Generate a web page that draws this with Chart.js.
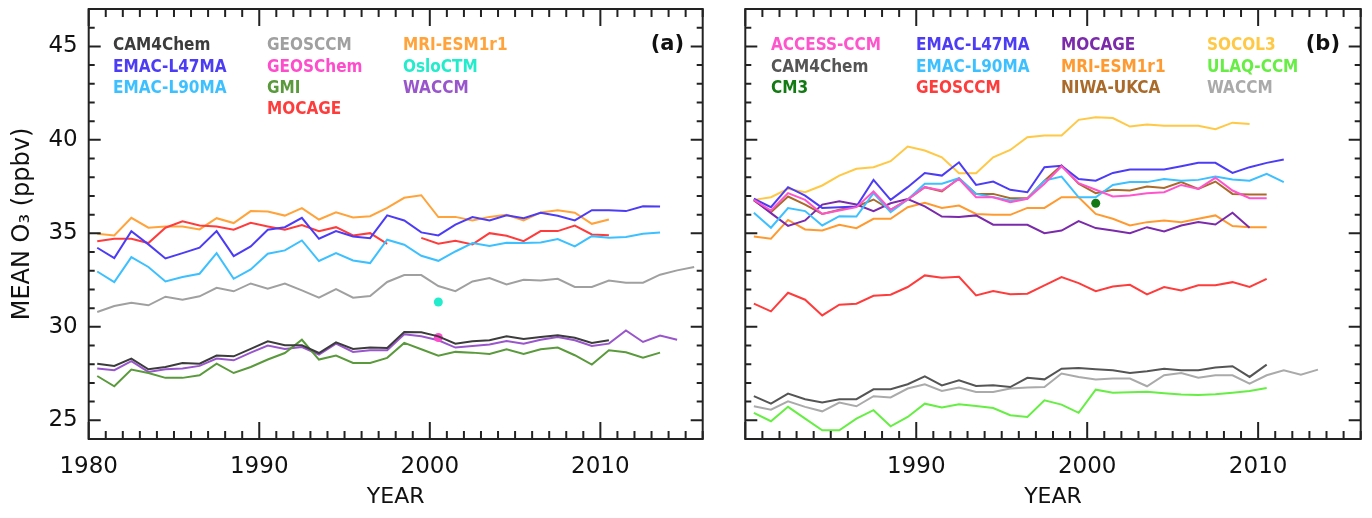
<!DOCTYPE html>
<html>
<head>
<meta charset="utf-8">
<script src="https://cdn.jsdelivr.net/npm/chart.js@4.4.1/dist/chart.umd.min.js"></script>
<style>
  html, body { margin: 0; padding: 0; background: #fff; }
  #wrap { position: relative; width: 1372px; height: 518px; overflow: hidden; }
  .panel { position: absolute; top: 0; height: 518px; }
  #pa { left: 0; width: 724px; }
  #pb { left: 724px; width: 648px; }
</style>
</head>
<body>
<div id="wrap">
  <div class="panel" id="pa"><canvas id="chartA" width="724" height="518"></canvas></div>
  <div class="panel" id="pb"><canvas id="chartB" width="648" height="518"></canvas></div>
</div>
<script>
// annual means, one value per year starting 1980
const years = [1980, 1981, 1982, 1983, 1984, 1985, 1986, 1987, 1988, 1989,
               1990, 1991, 1992, 1993, 1994, 1995, 1996, 1997, 1998, 1999,
               2000, 2001, 2002, 2003, 2004, 2005, 2006, 2007, 2008, 2009,
               2010, 2011, 2012, 2013, 2014, 2015];
const yTicks = [25, 30, 35, 40, 45];
const xTicksA = [1980, 1990, 2000, 2010];
const xTicksB = [1990, 2000, 2010];

// ---- panel (a) ----
const aCAM4Chem = [28.03, 27.91, 28.30, 27.73, 27.85, 28.07, 28.03, 28.46, 28.42, 28.82, 29.23, 29.01, 29.01, 28.60, 29.17, 28.82, 28.89, 28.87, 29.72, 29.71, 29.49, 29.10, 29.23, 29.28, 29.49, 29.35, 29.46, 29.55, 29.42, 29.14, 29.28];
const aEMAC47 = [34.23, 33.68, 35.12, 34.41, 33.66, 33.94, 34.23, 35.12, 33.78, 34.30, 35.19, 35.33, 35.83, 34.71, 35.12, 34.83, 34.74, 35.96, 35.69, 35.05, 34.89, 35.47, 35.87, 35.69, 35.97, 35.81, 36.10, 35.94, 35.69, 36.24, 36.24, 36.19, 36.45, 36.44];
const aEMAC90 = [32.96, 32.39, 33.73, 33.20, 32.43, 32.66, 32.84, 33.94, 32.57, 33.07, 33.91, 34.09, 34.62, 33.52, 33.94, 33.55, 33.41, 34.66, 34.39, 33.80, 33.53, 34.03, 34.48, 34.32, 34.50, 34.48, 34.51, 34.69, 34.30, 34.85, 34.76, 34.80, 34.98, 35.05];
const aGEOSCCM = [30.79, 31.11, 31.29, 31.15, 31.61, 31.45, 31.63, 32.09, 31.90, 32.32, 32.04, 32.32, 31.95, 31.56, 32.02, 31.56, 31.65, 32.40, 32.77, 32.77, 32.18, 31.91, 32.43, 32.61, 32.27, 32.52, 32.48, 32.57, 32.13, 32.13, 32.48, 32.36, 32.36, 32.79, 33.02, 33.20];
const aGMI = [27.37, 26.82, 27.71, 27.53, 27.27, 27.27, 27.41, 28.03, 27.53, 27.85, 28.25, 28.60, 29.31, 28.25, 28.46, 28.07, 28.07, 28.34, 29.14, 28.80, 28.46, 28.66, 28.62, 28.55, 28.80, 28.55, 28.80, 28.89, 28.48, 27.98, 28.75, 28.64, 28.35, 28.62];
const aMOCAGE = [34.58, 34.71, 34.71, 34.48, 35.30, 35.65, 35.42, 35.37, 35.19, 35.56, 35.37, 35.19, 35.44, 35.12, 35.33, 34.89, 35.01, 34.44, null, 34.76, 34.44, 34.60, 34.41, 35.01, 34.87, 34.58, 35.12, 35.12, 35.42, 34.94, 34.90];
const aMRI = [34.98, 34.89, 35.83, 35.30, 35.37, 35.37, 35.21, 35.81, 35.55, 36.19, 36.17, 35.95, 36.35, 35.74, 36.12, 35.85, 35.92, 36.36, 36.90, 37.04, 35.87, 35.88, 35.69, 35.88, 35.99, 35.69, 36.12, 36.24, 36.10, 35.51, 35.74];
const aWACCM = [27.77, 27.68, 28.16, 27.59, 27.73, 27.77, 27.91, 28.30, 28.21, 28.62, 29.00, 28.82, 28.92, 28.51, 29.10, 28.66, 28.75, 28.75, 29.60, 29.49, 29.28, 28.89, 28.98, 29.05, 29.24, 29.10, 29.31, 29.46, 29.28, 28.98, 29.10, 29.81, 29.19, 29.53, 29.31];
// single-year runs
const aGEOSChemYear = 2000, aGEOSChem = 29.43;
const aOsloCTMYear = 2000, aOsloCTM = 31.33;

// ---- panel (b) ----
const bACCESS = [36.79, 36.22, 37.15, 36.79, 36.04, 36.22, 36.40, 37.24, 36.26, 36.81, 37.47, 37.29, 37.91, 36.93, 36.93, 36.67, 36.85, 37.65, 38.59, 37.68, 37.33, 36.97, 37.02, 37.15, 37.20, 37.59, 37.38, 37.97, 37.29, 36.88, 36.88];
const bCAM4Chem = [26.29, 25.89, 26.43, 26.13, 25.95, 26.13, 26.13, 26.66, 26.66, 26.93, 27.35, 26.87, 27.14, 26.84, 26.87, 26.78, 27.27, 27.19, 27.76, 27.80, 27.73, 27.68, 27.53, 27.62, 27.76, 27.68, 27.68, 27.82, 27.89, 27.32, 27.98];
const bEMAC47 = [36.85, 36.40, 37.47, 37.02, 36.36, 36.40, 36.44, 37.86, 36.79, 37.47, 38.23, 38.09, 38.80, 37.59, 37.77, 37.33, 37.20, 38.54, 38.61, 37.91, 37.82, 38.23, 38.41, 38.41, 38.41, 38.59, 38.77, 38.77, 38.23, 38.54, 38.77, 38.95];
const bEMAC90 = [36.10, 35.30, 36.35, 36.19, 35.42, 35.92, 35.90, 37.15, 36.13, 36.81, 37.65, 37.65, 37.95, 37.11, 36.93, 36.76, 36.85, 37.82, 38.04, 36.93, 36.93, 37.59, 37.74, 37.74, 37.91, 37.82, 37.86, 38.04, 37.88, 37.82, 38.18, 37.74];
const bGEOSCCM = [31.24, 30.83, 31.82, 31.45, 30.61, 31.18, 31.24, 31.66, 31.72, 32.13, 32.75, 32.63, 32.68, 31.68, 31.91, 31.74, 31.77, 32.22, 32.66, 32.34, 31.91, 32.16, 32.25, 31.74, 32.13, 31.95, 32.22, 32.22, 32.39, 32.13, 32.57];
const bMOCAGE = [36.79, 36.08, 35.40, 35.69, 36.54, 36.72, 36.54, 36.19, 36.61, 36.83, 36.44, 35.90, 35.87, 35.96, 35.46, 35.46, 35.46, 35.01, 35.15, 35.65, 35.28, 35.15, 35.01, 35.33, 35.10, 35.42, 35.60, 35.47, 36.10, 35.30];
const bMRI = [34.83, 34.71, 35.72, 35.21, 35.15, 35.46, 35.28, 35.78, 35.78, 36.40, 36.63, 36.36, 36.49, 36.04, 35.99, 35.99, 36.36, 36.36, 36.93, 36.93, 36.04, 35.78, 35.42, 35.60, 35.69, 35.60, 35.78, 35.96, 35.39, 35.33, 35.33];
const bNIWA = [36.76, 36.13, 36.97, 36.54, 36.04, 36.26, 36.44, 36.81, 36.26, 36.81, 37.47, 37.24, 37.95, 37.11, 37.11, 36.88, 36.88, 37.82, 38.63, 37.65, 37.15, 37.33, 37.29, 37.50, 37.43, 37.74, 37.38, 37.77, 37.11, 37.08, 37.08];
const bSOCOL3 = [36.79, 36.93, 37.38, 37.20, 37.56, 38.09, 38.45, 38.54, 38.86, 39.64, 39.43, 39.07, 38.22, 38.22, 39.07, 39.46, 40.14, 40.23, 40.23, 41.07, 41.21, 41.17, 40.71, 40.82, 40.75, 40.76, 40.76, 40.57, 40.92, 40.85];
const bULAQ = [25.40, 24.95, 25.72, 25.09, 24.47, 24.47, 25.09, 25.54, 24.68, 25.18, 25.89, 25.68, 25.86, 25.77, 25.66, 25.27, 25.18, 26.07, 25.84, 25.40, 26.64, 26.48, 26.50, 26.53, 26.45, 26.38, 26.36, 26.39, 26.48, 26.57, 26.73];
const bWACCM = [25.75, 25.57, 26.02, 25.72, 25.48, 25.95, 25.75, 26.29, 26.22, 26.70, 26.93, 26.57, 26.75, 26.52, 26.52, 26.70, 26.75, 26.78, 27.50, 27.32, 27.18, 27.23, 27.23, 26.82, 27.41, 27.53, 27.28, 27.41, 27.41, 26.96, 27.41, 27.68, 27.44, 27.71];
const bCM3Year = 2000, bCM3 = 36.61;

// each annual mean sits in the middle of its year
function line(label, color, values) {
  return {
    label, borderColor: color, backgroundColor: color,
    data: values.map((v, i) => ({ x: years[i] + 0.5, y: v })),
    borderWidth: 2, pointRadius: 0, tension: 0, spanGaps: false
  };
}
function dot(label, color, year, value) {
  return {
    label, borderColor: color, backgroundColor: color,
    data: [{ x: year + 0.5, y: value }],
    showLine: false, pointRadius: 4.5, borderWidth: 0
  };
}

const TEXT = '#111';
const SANS = '"DejaVu Sans", "Liberation Sans", sans-serif';

// closed box with inward ticks on all four sides
const frameTicks = {
  id: 'frameTicks',
  afterDraw(chart) {
    const { ctx, chartArea: { left, right, top, bottom }, scales: { x, y } } = chart;
    ctx.save();
    ctx.strokeStyle = '#222';
    ctx.lineWidth = 2;
    ctx.beginPath();
    for (let yr = Math.ceil(x.min); yr <= x.max; yr++) {
      const px = x.getPixelForValue(yr);
      const len = yr % 10 === 0 ? 17 : 8;
      ctx.moveTo(px, bottom); ctx.lineTo(px, bottom - len);
      ctx.moveTo(px, top); ctx.lineTo(px, top + len);
    }
    for (let v = Math.ceil(y.min); v <= y.max; v++) {
      const py = y.getPixelForValue(v);
      const len = v % 5 === 0 ? 12 : 6;
      ctx.moveTo(left, py); ctx.lineTo(left + len, py);
      ctx.moveTo(right, py); ctx.lineTo(right - len, py);
    }
    ctx.stroke();
    ctx.strokeRect(left, top, right - left, bottom - top);
    ctx.restore();
  }
};

// model names in coloured text, laid out in columns
const modelLegend = {
  id: 'modelLegend',
  afterDraw(chart, args, opts) {
    const { ctx } = chart;
    ctx.save();
    ctx.font = 'bold 17px "DejaVu Sans Condensed", ' + SANS;
    ctx.fontStretch = 'condensed';
    ctx.textAlign = 'left';
    ctx.textBaseline = 'middle';
    chart.data.datasets.forEach((ds, i) => {
      const [c, r] = opts.slots[i];
      ctx.fillStyle = ds.borderColor;
      ctx.fillText(ds.label, opts.colX[c], opts.rowY[r]);
    });
    ctx.fontStretch = 'normal';
    ctx.font = 'bold 21px ' + SANS;
    ctx.textAlign = 'right';
    ctx.fillStyle = TEXT;
    ctx.fillText(opts.tag, opts.tagX, opts.rowY[0] - 1);
    ctx.restore();
  }
};

function panel(canvasId, datasets, cfg) {
  return new Chart(document.getElementById(canvasId), {
    type: 'line',
    data: { datasets },
    options: {
      responsive: false,
      animation: false,
      devicePixelRatio: 1,
      layout: { padding: { top: 9, right: cfg.padRight, bottom: 0, left: 0 } },
      plugins: {
        legend: { display: false },
        tooltip: { enabled: false },
        modelLegend: cfg.legend
      },
      scales: {
        x: {
          type: 'linear', min: 1980, max: 2016,
          afterBuildTicks: s => { s.ticks = cfg.xTicks.map(v => ({ value: v })); },
          afterFit: s => { s.height = 79; s.paddingLeft = 0; s.paddingRight = 0; },
          grid: { display: false, drawTicks: false },
          border: { display: false },
          ticks: {
            autoSkip: false, maxRotation: 0, padding: 14, color: TEXT,
            font: { family: SANS, size: 23 },
            callback: v => String(v)
          },
          title: {
            display: true, text: 'YEAR', color: TEXT,
            font: { family: SANS, size: 22 },
            padding: { top: 0, bottom: 8 }
          }
        },
        y: {
          type: 'linear', min: 24, max: 47,
          afterBuildTicks: s => { s.ticks = yTicks.map(v => ({ value: v })); },
          afterFit: s => { s.width = cfg.axisWidth; s.paddingTop = 0; s.paddingBottom = 0; },
          grid: { display: false, drawTicks: false },
          border: { display: false },
          ticks: {
            display: cfg.yLabels, padding: 11, color: TEXT,
            font: { family: SANS, size: 23 }
          },
          title: {
            display: cfg.yLabels, text: 'MEAN O₃ (ppbv)', color: TEXT,
            font: { family: SANS, size: 24 },
            padding: { top: 8, bottom: 0 }
          }
        }
      }
    },
    plugins: [frameTicks, modelLegend]
  });
}

panel('chartA', [
  line('CAM4Chem', '#3c3c3c', aCAM4Chem),
  line('EMAC-L47MA', '#4c3cf5', aEMAC47),
  line('EMAC-L90MA', '#3cc0ff', aEMAC90),
  line('GEOSCCM', '#a0a0a0', aGEOSCCM),
  dot('GEOSChem', '#ff4ccc', aGEOSChemYear, aGEOSChem),
  line('GMI', '#5a9a3c', aGMI),
  line('MOCAGE', '#ff3c3c', aMOCAGE),
  line('MRI-ESM1r1', '#ffa33a', aMRI),
  dot('OsloCTM', '#22eccb', aOsloCTMYear, aOsloCTM),
  line('WACCM', '#9955cc', aWACCM)
], {
  padRight: 21.3, axisWidth: 88.7, yLabels: true, xTicks: xTicksA,
  legend: {
    colX: [113, 267, 403], rowY: [46, 68, 89, 110],
    slots: [[0, 0], [0, 1], [0, 2], [1, 0], [1, 1], [1, 2], [1, 3], [2, 0], [2, 1], [2, 2]],
    tag: '(a)', tagX: 684
  }
});

panel('chartB', [
  line('ACCESS-CCM', '#ff55cc', bACCESS),
  line('CAM4Chem', '#555555', bCAM4Chem),
  dot('CM3', '#137a13', bCM3Year, bCM3),
  line('EMAC-L47MA', '#4c3cf5', bEMAC47),
  line('EMAC-L90MA', '#3cc0ff', bEMAC90),
  line('GEOSCCM', '#ff3c3c', bGEOSCCM),
  line('MOCAGE', '#7a2aaa', bMOCAGE),
  line('MRI-ESM1r1', '#ff9a30', bMRI),
  line('NIWA-UKCA', '#aa6a2a', bNIWA),
  line('SOCOL3', '#ffc845', bSOCOL3),
  line('ULAQ-CCM', '#66ee44', bULAQ),
  line('WACCM', '#aaaaaa', bWACCM)
], {
  padRight: 11.3, axisWidth: 21.3, yLabels: false, xTicks: xTicksB,
  legend: {
    colX: [47, 192, 337, 483], rowY: [46, 68, 89],
    slots: [[0, 0], [0, 1], [0, 2], [1, 0], [1, 1], [1, 2], [2, 0], [2, 1], [2, 2], [3, 0], [3, 1], [3, 2]],
    tag: '(b)', tagX: 616
  }
});
</script>
</body>
</html>
